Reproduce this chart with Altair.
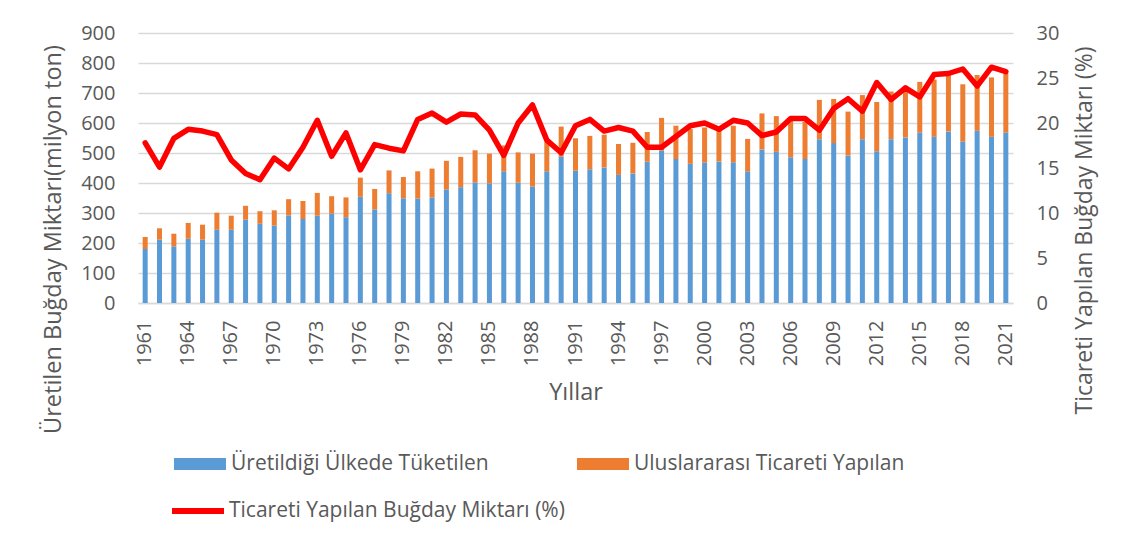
import altair as alt
import pandas as pd

years = list(range(1961, 2022))
domestic = [180, 211, 189, 214, 211, 244, 244, 278, 264, 258,
            292, 280, 291, 298, 286, 354, 312, 366, 349, 348,
            352, 379, 386, 402, 399, 439, 401, 388, 439, 488,
            441, 446, 452, 427, 432, 471, 508, 480, 464, 468,
            472, 469, 439, 512, 504, 486, 480, 546, 533, 492,
            546, 506, 546, 552, 568, 554, 572, 538, 574, 554, 568]
traded = [40, 38, 42, 53, 50, 57, 47, 46, 42, 51,
          54, 60, 76, 58, 66, 64, 68, 76, 71, 91,
          96, 95, 101, 107, 99, 86, 101, 110, 99, 100,
          108, 111, 109, 103, 102, 99, 109, 111, 116, 117,
          112, 122, 108, 120, 119, 125, 124, 131, 147, 146,
          147, 164, 159, 172, 169, 191, 196, 191, 186, 198, 198]
percent = [17.8, 15.1, 18.3, 19.3, 19.1, 18.7, 15.9, 14.4, 13.7, 16.1,
           14.9, 17.3, 20.3, 16.3, 18.9, 14.8, 17.6, 17.2, 16.9, 20.4,
           21.1, 20.1, 21.0, 20.9, 19.2, 16.4, 20.0, 22.0, 18.1, 16.7,
           19.7, 20.4, 19.1, 19.5, 19.1, 17.3, 17.3, 18.5, 19.7, 20.0,
           19.3, 20.3, 20.0, 18.6, 19.0, 20.5, 20.5, 19.2, 21.6, 22.7,
           21.3, 24.5, 22.6, 23.9, 22.9, 25.4, 25.5, 26.0, 24.1, 26.2, 25.7]

s_dom = "Üretildiği Ülkede Tüketilen"
s_trd = "Uluslararası Ticareti Yapılan"
s_pct = "Ticareti Yapılan Buğday Miktarı (%)"
tick_years = years[::3]

bars_df = pd.DataFrame(
    [{"Yıl": y, "seri": s_dom, "ord": 0, "değer": d} for y, d in zip(years, domestic)]
    + [{"Yıl": y, "seri": s_trd, "ord": 1, "değer": t} for y, t in zip(years, traded)]
)
line_df = pd.DataFrame({"Yıl": years, "yüzde": percent, "seri": s_pct})

FONT = "Open Sans"
TXT = "#595959"
GRID = "#D9D9D9"

x_enc = alt.X(
    "Yıl:O",
    scale=alt.Scale(paddingInner=0.65, paddingOuter=0.325),
    axis=alt.Axis(
        title="Yıllar", values=tick_years, labelAngle=-90, labelAlign="right",
        labelBaseline="middle", labelPadding=17, ticks=False, domainColor=GRID,
        domainWidth=1.5, labelFontSize=20, labelColor=TXT, titleFontSize=23.5,
        titleColor=TXT, titleFontWeight="normal", titleX=437.5, titleY=89,
        titleBaseline="middle", titleAlign="center", grid=False,
    ),
)

bars = alt.Chart(bars_df).mark_bar().encode(
    x=x_enc,
    y=alt.Y(
        "değer:Q", stack="zero",
        scale=alt.Scale(domain=[0, 900], nice=False),
        axis=alt.Axis(
            title="Üretilen Buğday Miktarı(milyon ton)", values=list(range(0, 901, 100)),
            orient="left", ticks=False, domain=False, labelPadding=23,
            labelFontSize=20, labelColor=TXT, gridColor=GRID, gridWidth=1.5,
            titleFontSize=23.5, titleColor=TXT, titleFontWeight="normal",
            titleX=-85, titleY=206, titleAngle=-90, titleAlign="center",
            titleBaseline="middle",
        ),
    ),
    color=alt.Color(
        "seri:N",
        scale=alt.Scale(domain=[s_dom, s_trd], range=["#5B9BD5", "#ED7D31"]),
        legend=alt.Legend(
            title=None, orient="none", legendX=36, legendY=405, direction="horizontal",
            symbolType="M-1,-0.23H1V0.23H-1Z", symbolSize=2704, symbolStrokeWidth=0,
            labelFontSize=21, labelColor=TXT, labelOffset=5,
            labelLimit=600, columnPadding=88, padding=0,
        ),
    ),
    order=alt.Order("ord:Q", sort="ascending"),
)

line = alt.Chart(line_df).mark_line(strokeWidth=5.5, strokeCap="round", strokeJoin="round").encode(
    x=alt.X("Yıl:O"),
    y=alt.Y(
        "yüzde:Q",
        scale=alt.Scale(domain=[0, 30], nice=False),
        axis=alt.Axis(
            title=s_pct, values=list(range(0, 31, 5)), orient="right", ticks=False,
            domain=False, grid=False, labelPadding=23, labelFontSize=20, labelColor=TXT,
            titleFontSize=23, titleColor=TXT, titleFontWeight="normal",
            titleX=71, titleY=197, titleAngle=-90, titleAlign="center",
            titleBaseline="middle",
        ),
    ),
    stroke=alt.Stroke(
        "seri:N",
        scale=alt.Scale(domain=[s_pct], range=["#FF0000"]),
        legend=alt.Legend(
            title=None, orient="none", legendX=31, legendY=449,
            symbolType="stroke", symbolSize=2704, symbolStrokeWidth=6,
            labelFontSize=21, labelColor=TXT, labelOffset=2,
            labelLimit=600, padding=0,
        ),
    ),
)

chart = (
    alt.layer(bars, line)
    .resolve_scale(y="independent", color="independent")
    .properties(
        width=875, height=270,
        autosize=alt.AutoSizeParams(type="none"),
        padding={"left": 130, "top": 25, "right": 90, "bottom": 235},
    )
    .configure(font=FONT)
    .configure_view(stroke=None)
)

chart.save("out.html", embed_options={"renderer": "svg", "actions": False})
